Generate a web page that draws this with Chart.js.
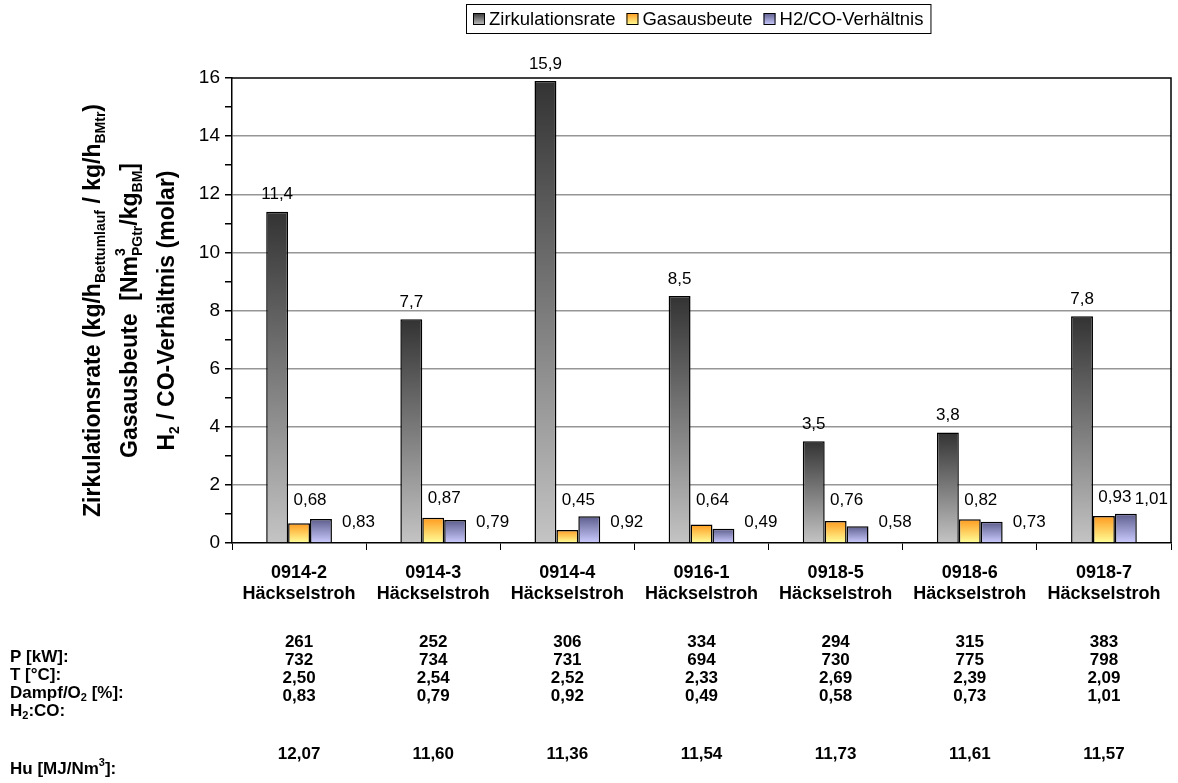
<!DOCTYPE html>
<html>
<head>
<meta charset="utf-8">
<script src="https://cdn.jsdelivr.net/npm/chart.js@4/dist/chart.umd.min.js"></script>
<style>
  html, body { margin: 0; padding: 0; background: #fff; }
  #wrap { width: 1178px; height: 783px; position: relative; }
</style>
</head>
<body>
<div id="wrap"><canvas id="c" width="1178" height="783"></canvas></div>
<script>
// Versuche (Kategorien) und Messwerte
const categories = [
  ['0914-2', 'Häckselstroh'], ['0914-3', 'Häckselstroh'], ['0914-4', 'Häckselstroh'],
  ['0916-1', 'Häckselstroh'], ['0918-5', 'Häckselstroh'], ['0918-6', 'Häckselstroh'],
  ['0918-7', 'Häckselstroh']
];
const zirkulationsrate = [11.4, 7.7, 15.9, 8.5, 3.5, 3.8, 7.8];
const gasausbeute      = [0.68, 0.87, 0.45, 0.64, 0.76, 0.82, 0.93];
const h2coVerhaeltnis  = [0.83, 0.79, 0.92, 0.49, 0.58, 0.73, 1.01];
const seriesNames = ['Zirkulationsrate', 'Gasausbeute', 'H2/CO-Verhältnis'];
const yMin = 0, yMax = 16, yStep = 1, yLabelStep = 2;

// Betriebsdaten unter dem Diagramm
const leistung   = ['261', '252', '306', '334', '294', '315', '383'];
const temperatur = ['732', '734', '731', '694', '730', '775', '798'];
const dampfO2    = ['2,50', '2,54', '2,52', '2,33', '2,69', '2,39', '2,09'];
const h2co       = ['0,83', '0,79', '0,92', '0,49', '0,58', '0,73', '1,01'];
const heizwert   = ['12,07', '11,60', '11,36', '11,54', '11,73', '11,61', '11,57'];

const FONT = "'Liberation Sans', Arial, Helvetica, sans-serif";
const fills = [
  ['#333333', '#c4c4c4'],
  ['#ff9a1e', '#ffff99'],
  ['#5c5c8c', '#ccccff']
];

function barGradient(top, bottom) {
  return (ctx) => {
    const chart = ctx.chart;
    if (!chart.chartArea || ctx.type !== 'data') return bottom;
    const ys = chart.scales.y;
    const y0 = ys.getPixelForValue(0), y1 = ys.getPixelForValue(ctx.raw);
    if (!isFinite(y1) || Math.abs(y0 - y1) < 0.5) return bottom;
    const g = chart.ctx.createLinearGradient(0, y1, 0, y0);
    g.addColorStop(0, top);
    g.addColorStop(1, bottom);
    return g;
  };
}

const fmt = (v, d) => v.toFixed(d).replace('.', ',');

// rich text: segments [{t, k}] with k = 'n' normal, 'sub', 'sup', or 'stack' (sup over sub)
function richWidth(ctx, segs, size) {
  let w = 0;
  for (const s of segs) {
    if (s.k === 'n') { ctx.font = `bold ${size}px ${FONT}`; w += ctx.measureText(s.t).width; }
    else if (s.k === 'stack') {
      ctx.font = `bold ${Math.round(size * 0.62)}px ${FONT}`;
      w += Math.max(ctx.measureText(s.sup).width, ctx.measureText(s.sub).width);
    } else { ctx.font = `bold ${Math.round(size * 0.62)}px ${FONT}`; w += ctx.measureText(s.t).width; }
  }
  return w;
}
function drawRich(ctx, segs, x, y, size) {
  const small = Math.round(size * 0.62);
  ctx.textBaseline = 'middle';
  ctx.textAlign = 'left';
  for (const s of segs) {
    if (s.k === 'n') {
      ctx.font = `bold ${size}px ${FONT}`;
      ctx.fillText(s.t, x, y); x += ctx.measureText(s.t).width;
    } else if (s.k === 'sub') {
      ctx.font = `bold ${small}px ${FONT}`;
      ctx.fillText(s.t, x, y + size * 0.3); x += ctx.measureText(s.t).width;
    } else if (s.k === 'sup') {
      ctx.font = `bold ${small}px ${FONT}`;
      ctx.fillText(s.t, x, y - size * 0.38); x += ctx.measureText(s.t).width;
    } else if (s.k === 'stack') {
      ctx.font = `bold ${small}px ${FONT}`;
      ctx.fillText(s.sup, x, y - size * 0.42);
      ctx.fillText(s.sub, x, y + size * 0.32);
      x += Math.max(ctx.measureText(s.sup).width, ctx.measureText(s.sub).width);
    }
  }
}

const yTitleLines = [
  [{t: 'Zirkulationsrate (kg/h', k: 'n'}, {t: 'Bettumlauf', k: 'sub'}, {t: ' / kg/h', k: 'n'}, {t: 'BMtr', k: 'sub'}, {t: ')', k: 'n'}],
  [{t: 'Gasausbeute  [Nm', k: 'n'}, {k: 'stack', sup: '3', sub: 'PGtr'}, {t: '/kg', k: 'n'}, {t: 'BM', k: 'sub'}, {t: ']', k: 'n'}],
  [{t: 'H', k: 'n'}, {t: '2', k: 'sub'}, {t: ' / CO-Verhältnis (molar)', k: 'n'}]
];

const tableRows = [
  { label: [{t: 'P [kW]:', k: 'n'}], values: leistung },
  { label: [{t: 'T [°C]:', k: 'n'}], values: temperatur },
  { label: [{t: 'Dampf/O', k: 'n'}, {t: '2', k: 'sub'}, {t: ' [%]:', k: 'n'}], values: dampfO2 },
  { label: [{t: 'H', k: 'n'}, {t: '2', k: 'sub'}, {t: ':CO:', k: 'n'}], values: h2co },
  { label: [{t: 'Hu [MJ/Nm', k: 'n'}, {t: '3', k: 'sup'}, {t: ']:', k: 'n'}], values: heizwert }
];

const decorations = {
  id: 'decorations',
  afterDatasetsDraw(chart) {
    const ctx = chart.ctx, a = chart.chartArea, ys = chart.scales.y;
    ctx.save();
    // plot area frame (top and right)
    ctx.strokeStyle = '#000';
    ctx.lineWidth = 1.5;
    ctx.beginPath();
    ctx.moveTo(a.left, a.top); ctx.lineTo(a.right, a.top); ctx.lineTo(a.right, a.bottom);
    ctx.stroke();

    // value labels
    ctx.fillStyle = '#000';
    ctx.font = `17px ${FONT}`;
    ctx.textBaseline = 'middle';
    chart.data.datasets.forEach((ds, di) => {
      const meta = chart.getDatasetMeta(di);
      meta.data.forEach((el, i) => {
        const v = ds.data[i];
        if (di === 0) {
          ctx.textAlign = 'center';
          ctx.fillText(fmt(v, 1), el.x, el.y - 17);
        } else if (di === 1) {
          ctx.textAlign = 'center';
          const yy = ys.getPixelForValue(Math.max(v, 0.8)) - 19;
          ctx.fillText(fmt(v, 2), el.x + el.width / 2, yy);
        } else {
          ctx.textAlign = 'left';
          if (v >= 1) ctx.fillText(fmt(v, 2), el.x + el.width / 2 - 2, el.y - 14);
          else ctx.fillText(fmt(v, 2), el.x + el.width / 2 + 10, ys.getPixelForValue(0.72));
        }
      });
    });
    ctx.restore();
  },
  afterDraw(chart) {
    const ctx = chart.ctx, a = chart.chartArea, xs = chart.scales.x;
    ctx.save();
    ctx.fillStyle = '#000';

    // y axis title, three rotated lines
    const cy = (a.top + a.bottom) / 2;
    const xs3 = [94, 131, 168];
    yTitleLines.forEach((segs, i) => {
      ctx.save();
      ctx.translate(xs3[i], cy);
      ctx.rotate(-Math.PI / 2);
      const w = richWidth(ctx, segs, 23);
      drawRich(ctx, segs, -w / 2, 0, 23);
      ctx.restore();
    });

    // legend
    ctx.font = `18.5px ${FONT}`;
    const sw = 12, gapT = 4, gapI = 11, padX = 7;
    const widths = seriesNames.map(n => ctx.measureText(n).width);
    const total = widths.reduce((s, w) => s + sw + gapT + w, 0) + gapI * (seriesNames.length - 1) + padX * 2;
    const bx = Math.round(698 - total / 2), by = 4, bh = 29;
    ctx.fillStyle = '#fff';
    ctx.fillRect(bx, by, total, bh);
    ctx.strokeStyle = '#000';
    ctx.lineWidth = 1;
    ctx.strokeRect(bx + 0.5, by + 0.5, total, bh);
    let x = bx + padX;
    const my = by + bh / 2 + 0.5;
    seriesNames.forEach((n, i) => {
      const g = ctx.createLinearGradient(0, my - sw / 2, 0, my + sw / 2);
      g.addColorStop(0, fills[i][0]); g.addColorStop(1, fills[i][1]);
      ctx.fillStyle = g;
      ctx.fillRect(x, my - sw / 2, sw, sw);
      ctx.strokeStyle = '#000';
      ctx.lineWidth = 1;
      ctx.strokeRect(x + 0.5, my - sw / 2 + 0.5, sw - 1, sw - 1);
      x += sw + gapT;
      ctx.fillStyle = '#000';
      ctx.textAlign = 'left';
      ctx.textBaseline = 'middle';
      ctx.font = `18.5px ${FONT}`;
      ctx.fillText(n, x, my + 1);
      x += widths[i] + gapI;
    });

    // operating data table
    const rowY = [642, 660, 678, 696, 754];
    tableRows.forEach((row, r) => {
      ctx.fillStyle = '#000';
      drawRich(ctx, row.label, 10, rowY[r] + 15, 17);
      ctx.font = `bold 17px ${FONT}`;
      ctx.textAlign = 'center';
      ctx.textBaseline = 'middle';
      row.values.forEach((v, i) => ctx.fillText(v, xs.getPixelForValue(i), rowY[r]));
    });
    ctx.restore();
  }
};

new Chart(document.getElementById('c'), {
  type: 'bar',
  data: {
    labels: categories,
    datasets: [zirkulationsrate, gasausbeute, h2coVerhaeltnis].map((d, i) => ({
      label: seriesNames[i],
      data: d,
      backgroundColor: barGradient(fills[i][0], fills[i][1]),
      borderColor: '#000',
      borderWidth: 1.5,
      categoryPercentage: 0.49,
      barPercentage: 1.0
    }))
  },
  options: {
    responsive: false,
    animation: false,
    devicePixelRatio: 1,
    layout: { padding: { left: 0, right: 7, top: 78, bottom: 180 } },
    plugins: { legend: { display: false }, tooltip: { enabled: false } },
    scales: {
      x: {
        offset: true,
        afterFit: (s) => { s.height = 60; },
        grid: { drawOnChartArea: false, color: '#000', tickLength: 7, lineWidth: 1 },
        border: { color: '#000', width: 1.5 },
        ticks: { color: '#000', font: { family: FONT, size: 18, weight: 'bold' }, padding: 12, maxRotation: 0, autoSkip: false }
      },
      y: {
        min: yMin, max: yMax,
        afterFit: (s) => { s.width = 232; },
        ticks: {
          stepSize: yStep, autoSkip: false, color: '#000', padding: 5,
          font: { family: FONT, size: 19 },
          callback: (v) => (v % yLabelStep === 0 ? String(v) : '')
        },
        grid: {
          color: (c) => (c.tick && c.tick.value % yLabelStep === 0 && c.tick.value > yMin && c.tick.value < yMax) ? '#969696' : 'rgba(0,0,0,0)',
          tickColor: '#000', tickLength: 7, lineWidth: 1.5
        },
        border: { color: '#000', width: 1.5 }
      }
    }
  },
  plugins: [decorations]
});
</script>
</body>
</html>
